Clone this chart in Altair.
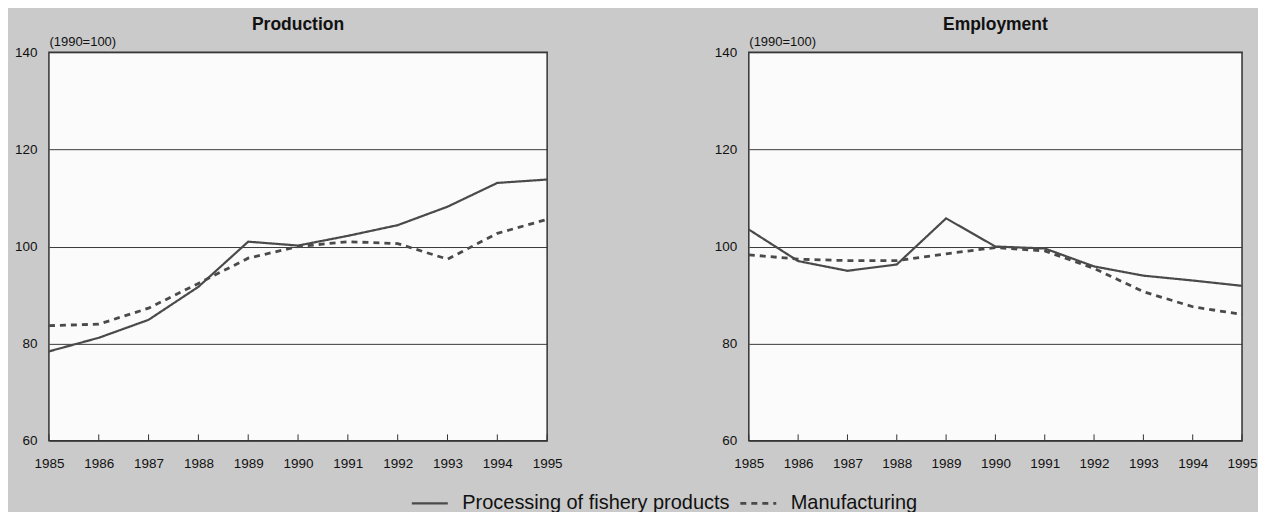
import altair as alt
import pandas as pd

years = list(range(1985, 1996))
series_names = ["Processing of fishery products", "Manufacturing"]

prod_fish = [78.4, 81.2, 84.9, 91.7, 101.0, 100.2, 102.2, 104.4, 108.2, 113.1, 113.8]
prod_manu = [83.7, 84.0, 87.3, 92.4, 97.6, 100.0, 101.0, 100.6, 97.4, 102.7, 105.6]
emp_fish = [103.5, 97.0, 95.0, 96.3, 105.8, 100.0, 99.6, 95.9, 94.0, 93.0, 91.9]
emp_manu = [98.3, 97.4, 97.1, 97.1, 98.5, 99.8, 99.1, 95.5, 90.7, 87.6, 86.0]

y_ticks = [60, 80, 100, 120, 140]
FONT = "Liberation Sans"
LINE = "#4a4a4a"


def panel(title, fish, manu, w):
    df = pd.DataFrame({
        "year": years * 2,
        "value": fish + manu,
        "series": [series_names[0]] * len(years) + [series_names[1]] * len(years),
    })
    xs = alt.Scale(domain=[1985, 1995], nice=False, zero=False)
    ys = alt.Scale(domain=[60, 140], nice=False, zero=False)
    lines = alt.Chart(df).mark_line(color=LINE).encode(
        x=alt.X("year:Q", scale=xs,
                axis=alt.Axis(values=years, format="d", title=None, grid=False,
                              ticks=False, domain=False, labelFontSize=13.5,
                              labelPadding=16, labelColor="#111", labelFont=FONT,
                              labelFlush=False, labelOverlap=False)),
        y=alt.Y("value:Q", scale=ys,
                axis=alt.Axis(values=y_ticks, title="(1990=100)", titleAngle=0,
                              titleX=0, titleY=-4, titleAlign="left",
                              titleBaseline="bottom", titleFontWeight="normal",
                              titleFontSize=13, titleFont=FONT, titleColor="#111",
                              grid=True, gridColor="#3a3a3a", gridWidth=1,
                              ticks=False, domain=False, labelFontSize=13.5,
                              labelPadding=12, labelColor="#111", labelFont=FONT)),
        strokeDash=alt.StrokeDash(
            "series:N",
            scale=alt.Scale(domain=series_names, range=[[1, 0], [6, 5]]),
            sort=series_names,
            legend=alt.Legend(title=None)),
        strokeWidth=alt.StrokeWidth(
            "series:N",
            scale=alt.Scale(domain=series_names, range=[2.2, 2.8]),
            legend=None),
    )
    tick_df = pd.DataFrame({"year": years})
    ticks = alt.Chart(tick_df).mark_rule(color="#333", strokeWidth=1).encode(
        x=alt.X("year:Q", scale=xs),
        y=alt.Y(datum=60, scale=ys),
        y2=alt.datum(61.3),
    )
    return alt.layer(lines, ticks).properties(
        width=w, height=389,
        title=alt.TitleParams(title, fontSize=17.5, fontWeight="bold", font=FONT,
                              color="#111", anchor="middle", offset=2),
    )


left = panel("Production", prod_fish, prod_manu, 499)
right = panel("Employment", emp_fish, emp_manu, 494)

chart = alt.hconcat(left, right, spacing=150).configure(
    background="#cacaca", padding={"left": 5, "top": 6, "right": 0, "bottom": 0}
).configure_view(
    fill="#fbfbfb", stroke="#333", strokeWidth=1.5
).configure_legend(
    orient="none", legendX=362, legendY=432, direction="horizontal",
    symbolType="stroke", symbolStrokeColor=LINE, symbolStrokeWidth=2.4,
    symbolSize=1296, labelFontSize=20, labelFont=FONT, labelColor="#111",
    columnPadding=4, labelOffset=13, labelLimit=500,
)

chart.save("out.html", embed_options={"renderer": "svg", "actions": False})
